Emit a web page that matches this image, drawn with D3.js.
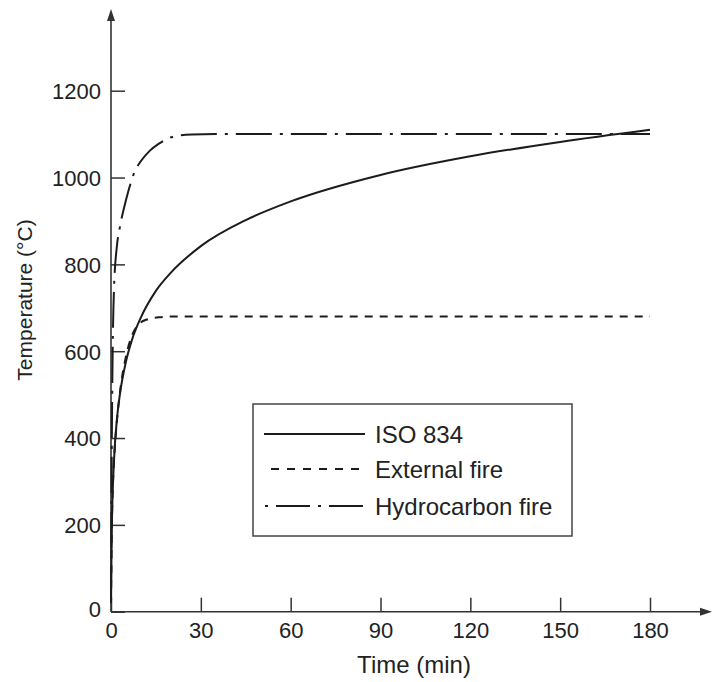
<!DOCTYPE html>
<html>
<head>
<meta charset="utf-8">
<script src="https://cdn.jsdelivr.net/npm/d3@7"></script>
<style>
  body { margin: 0; background: #fff; }
  text { font-family: "Liberation Sans", Arial, sans-serif; fill: #222; }
</style>
</head>
<body>
<script>
// Chart stuff
var width = 712,
    height = 682;

// Values (time in min, temperature in degC)
var isoTime = [0, 0.25, 0.5, 1, 2, 3, 5, 7, 10, 15, 20, 30, 45, 60, 90, 120, 150, 180];
var isoTemp = [20, 185, 261, 349, 445, 502, 576, 626, 678, 739, 781, 842, 902, 945, 1006, 1049, 1082, 1110];

var extTime = [0, 0.25, 0.5, 1, 2, 3, 5, 7, 9, 12, 16, 20, 180];
var extTemp = [20, 182, 263, 346, 441, 506, 588, 636, 660, 673, 678, 680, 680];

var hydTime = [0, 0.25, 0.5, 1, 2, 3, 5, 8, 10, 13, 16, 19, 22, 27, 35, 180];
var hydTemp = [20, 373, 568, 743, 844, 887, 948, 1015, 1038, 1062, 1078, 1090, 1096, 1099, 1100, 1100];

var xTicks = [0, 30, 60, 90, 120, 150, 180];
var yTicks = [0, 200, 400, 600, 800, 1000, 1200];

var legendLabels = ['ISO 834', 'External fire', 'Hydrocarbon fire'];
var dashes = [null, '8,7', '36,8,3,8'];

var series = [
  { t: isoTime, v: isoTemp },
  { t: extTime, v: extTemp },
  { t: hydTime, v: hydTemp }
];

var svg = d3.select('body').append('svg')
    .attr('width', width)
    .attr('height', height);

svg.append('rect').attr('width', width).attr('height', height).attr('fill', '#fff');

var x = d3.scaleLinear().domain([0, 180]).range([111, 650]);
var y = d3.scaleLinear().domain([0, 1200]).range([611.7, 90.7]);

var axisColor = '#333';

// Axes (ticks point inward)
var xAxis = svg.append('g').attr('transform', 'translate(0,' + y(0) + ')')
    .call(d3.axisBottom(x).tickValues(xTicks).tickSize(-14).tickPadding(0).tickFormat(d3.format('d')));
xAxis.select('.domain').remove();
xAxis.selectAll('line').attr('stroke', axisColor).attr('stroke-width', 1.5);
xAxis.selectAll('text').attr('font-size', 22).attr('y', 26).attr('dy', 0).attr('fill', '#222')
    .attr('font-family', '"Liberation Sans", Arial, sans-serif');

var yAxis = svg.append('g').attr('transform', 'translate(' + x(0) + ',0)')
    .call(d3.axisLeft(y).tickValues(yTicks).tickSize(-14).tickPadding(0).tickFormat(d3.format('d')));
yAxis.select('.domain').remove();
yAxis.selectAll('line').attr('stroke', axisColor).attr('stroke-width', 1.5);
yAxis.selectAll('text').attr('font-size', 22).attr('x', -10).attr('dy', '0.36em').attr('fill', '#222')
    .attr('font-family', '"Liberation Sans", Arial, sans-serif');
// The "0" on the y axis sits a bit lower, next to the x axis
yAxis.selectAll('.tick').filter(function(d) { return d === 0; }).select('text').attr('dy', '0.2em');

// Axis lines with arrows
svg.append('line').attr('x1', x(0)).attr('x2', x(0)).attr('y1', y(0)).attr('y2', 16)
    .attr('stroke', axisColor).attr('stroke-width', 1.6);
svg.append('path').attr('d', 'M' + x(0) + ',9 L' + (x(0) - 4) + ',21 L' + (x(0) + 4) + ',21 Z').attr('fill', axisColor);
svg.append('line').attr('x1', x(0)).attr('x2', 706).attr('y1', y(0)).attr('y2', y(0))
    .attr('stroke', axisColor).attr('stroke-width', 1.6);
svg.append('path').attr('d', 'M712,' + y(0) + ' L700,' + (y(0) - 4) + ' L700,' + (y(0) + 4) + ' Z').attr('fill', axisColor);

// Axis titles
svg.append('text').attr('x', 414).attr('y', 673).attr('text-anchor', 'middle')
    .attr('font-size', 24).text('Time (min)');
svg.append('text').attr('transform', 'translate(32,300) rotate(-90)').attr('text-anchor', 'middle')
    .attr('font-size', 21).text('Temperature (°C)');

// Curves
var line = d3.line()
    .x(function(d) { return x(d[0]); })
    .y(function(d) { return y(d[1]); })
    .curve(d3.curveMonotoneX);

svg.append('g').attr('class', 'curves')
    .selectAll('path')
    .data(series)
  .enter().append('path')
    .attr('d', function(s) { return line(d3.zip(s.t, s.v)); })
    .attr('fill', 'none')
    .attr('stroke', '#1c1c1c')
    .attr('stroke-width', 2)
    .attr('stroke-dasharray', function(s, i) { return dashes[i]; });

// Legend
var legend = svg.append('g').attr('class', 'legend');
legend.append('rect').attr('x', 253).attr('y', 404).attr('width', 319).attr('height', 132)
    .attr('fill', '#fff').attr('stroke', '#444').attr('stroke-width', 1.5);

var rows = [434, 469, 506];
var legendDash = [null, '8,8', '3,8,34,8'];
var legendStart = [264, 271, 265];
legendLabels.forEach(function(lbl, i) {
  legend.append('line').attr('x1', legendStart[i]).attr('x2', 365).attr('y1', rows[i]).attr('y2', rows[i])
      .attr('stroke', '#1c1c1c').attr('stroke-width', 2)
      .attr('stroke-dasharray', legendDash[i]);
  legend.append('text').attr('x', 375).attr('y', rows[i]).attr('dy', '0.36em')
      .attr('font-size', 24).text(lbl);
});
</script>
</body>
</html>
